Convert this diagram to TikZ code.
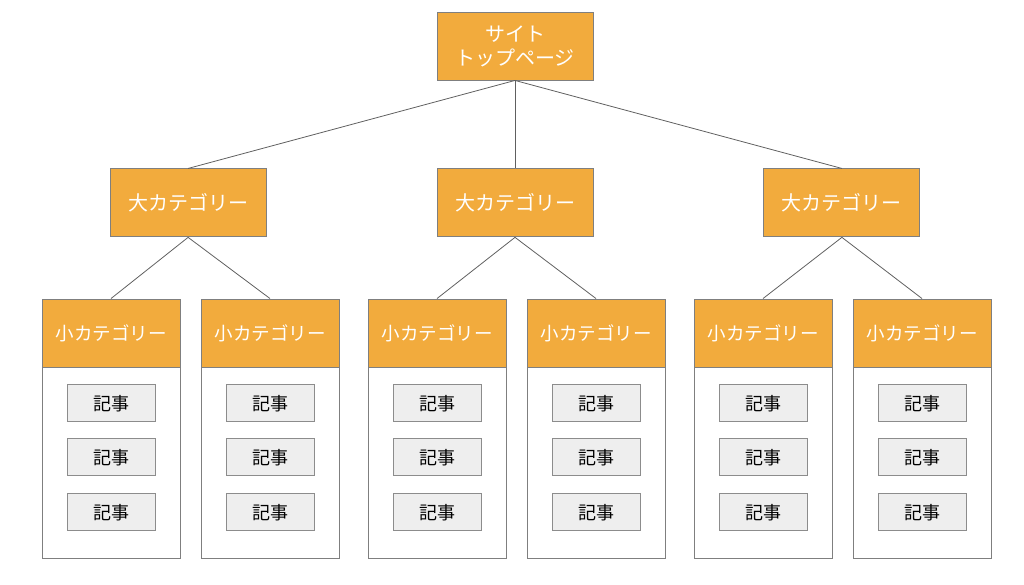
\documentclass[tikz,border=0pt]{standalone}
\usepackage{fontspec}
\setmainfont{Noto Sans CJK JP}
\usetikzlibrary{positioning}
\definecolor{catorange}{HTML}{F2AB3D}
\definecolor{boxline}{HTML}{7F7F7F}
\definecolor{artfill}{HTML}{EEEEEE}
\definecolor{artline}{HTML}{8C8C8C}
\definecolor{linkline}{HTML}{606060}
\tikzset{
    topbox/.style={draw=boxline, fill=catorange, text=white, line width=0.9pt,
      minimum width=156pt, minimum height=68pt, align=center, inner sep=0pt,
      font=\fontsize{20}{24}\selectfont},
    bigcat/.style={topbox},
    subcat/.style={draw=boxline, fill=catorange, text=white, line width=0.9pt,
      minimum width=138pt, minimum height=68pt, inner sep=0pt,
      font=\fontsize{18.5}{22}\selectfont},
    column/.style={draw=boxline, fill=white, line width=0.9pt,
      minimum width=138pt, minimum height=259pt, inner sep=0pt},
    article/.style={draw=artline, fill=artfill, line width=0.9pt,
      minimum width=88pt, minimum height=37pt, inner sep=0pt,
      font=\fontsize{18}{22}\selectfont},
    link/.style={draw=linkline, line width=0.8pt},
}
\begin{document}
\begin{tikzpicture}[x=1pt, y=-1pt]
    \useasboundingbox (0,0) rectangle (1024,585);

    \node[topbox] (top) at (515,46) {サイト\\トップページ};

    \node[bigcat, below=88pt of top] (c2) {大カテゴリー};
    \node[bigcat, left=170pt of c2] (c1) {大カテゴリー};
    \node[bigcat, right=170pt of c2] (c3) {大カテゴリー};

    \draw[link] (top.south) -- (c1.north);
    \draw[link] (top.south) -- (c2.north);
    \draw[link] (top.south) -- (c3.north);

    % small categories with their columns
    \node[column] (col1) at (111,428.5) {};
    \node[subcat, anchor=north] (s1) at (col1.north) {小カテゴリー};
    \node[column] (col2) at (270,428.5) {};
    \node[subcat, anchor=north] (s2) at (col2.north) {小カテゴリー};
    \node[column] (col3) at (437,428.5) {};
    \node[subcat, anchor=north] (s3) at (col3.north) {小カテゴリー};
    \node[column] (col4) at (596,428.5) {};
    \node[subcat, anchor=north] (s4) at (col4.north) {小カテゴリー};
    \node[column] (col5) at (763,428.5) {};
    \node[subcat, anchor=north] (s5) at (col5.north) {小カテゴリー};
    \node[column] (col6) at (922,428.5) {};
    \node[subcat, anchor=north] (s6) at (col6.north) {小カテゴリー};

    \draw[link] (c1.south) -- (s1.north);
    \draw[link] (c1.south) -- (s2.north);
    \draw[link] (c2.south) -- (s3.north);
    \draw[link] (c2.south) -- (s4.north);
    \draw[link] (c3.south) -- (s5.north);
    \draw[link] (c3.south) -- (s6.north);

    % articles
    \node[article, below=17pt of s1] (a11) {記事};
    \node[article, below=16pt of a11] (a12) {記事};
    \node[article, below=17pt of a12] (a13) {記事};

    \node[article, below=17pt of s2] (a21) {記事};
    \node[article, below=16pt of a21] (a22) {記事};
    \node[article, below=17pt of a22] (a23) {記事};

    \node[article, below=17pt of s3] (a31) {記事};
    \node[article, below=16pt of a31] (a32) {記事};
    \node[article, below=17pt of a32] (a33) {記事};

    \node[article, below=17pt of s4] (a41) {記事};
    \node[article, below=16pt of a41] (a42) {記事};
    \node[article, below=17pt of a42] (a43) {記事};

    \node[article, below=17pt of s5] (a51) {記事};
    \node[article, below=16pt of a51] (a52) {記事};
    \node[article, below=17pt of a52] (a53) {記事};

    \node[article, below=17pt of s6] (a61) {記事};
    \node[article, below=16pt of a61] (a62) {記事};
    \node[article, below=17pt of a62] (a63) {記事};
\end{tikzpicture}
\end{document}
